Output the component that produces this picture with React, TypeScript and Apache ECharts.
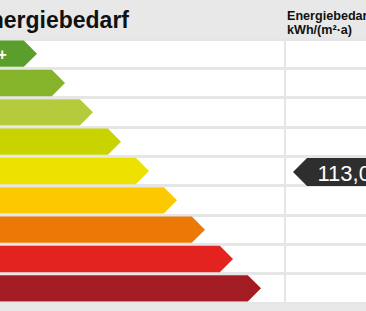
import React, { useEffect, useRef } from "react";
import * as echarts from "echarts";

const classes = ["A+", "A", "B", "C", "D", "E", "F", "G", "H"];
const arrowEnds = [37, 65, 93, 121, 149, 177, 205, 233, 261];
const classColors = ["#5a9e2b", "#85b42a", "#b5cb3c", "#c8d300", "#ede100", "#fcc800", "#ec7805", "#e2231f", "#a31b23"];
const classUpper = [30, 50, 75, 100, 130, 160, 200, 250];
const energyValue = 113.0;
const titleText = "Energiebedarf";
const unitLine1 = "Energiebedarf";
const unitLine2 = "kWh/(m²·a)";

function classIndexOf(v: number): number {
  for (let i = 0; i < classUpper.length; i++) if (v < classUpper[i]) return i;
  return classUpper.length;
}

export default function App() {
  const ref = useRef<HTMLDivElement>(null);
  useEffect(() => {
    if (!ref.current) return;
    const chart = echarts.init(ref.current, null, { renderer: "svg" });
    const markerIdx = classIndexOf(energyValue);
    const option: any = {
      animation: false,
      backgroundColor: "#e8e8e8",
      grid: { left: 0, right: 0, top: 39, bottom: 8, show: true, backgroundColor: "#ffffff", borderWidth: 0 },
      xAxis: { type: "value", min: 0, max: 366, show: false },
      yAxis: {
        type: "category",
        data: classes,
        inverse: true,
        axisLine: { show: false },
        axisTick: { show: false },
        axisLabel: { show: false },
        splitLine: { show: true, lineStyle: { color: "#e6e6e6", width: 3 } },
      },
      graphic: [
        {
          type: "text",
          x: 129,
          y: 20,
          style: { text: titleText, fill: "#111", font: "bold 23px 'Liberation Sans', Arial, sans-serif", textAlign: "right", textVerticalAlign: "middle" },
        },
        {
          type: "text",
          x: 287,
          y: 16,
          style: { text: unitLine1, fill: "#111", font: "bold 12.6px 'Liberation Sans', Arial, sans-serif", textAlign: "left", textVerticalAlign: "middle" },
        },
        {
          type: "text",
          x: 287,
          y: 29.5,
          style: { text: unitLine2, fill: "#111", font: "bold 12.6px 'Liberation Sans', Arial, sans-serif", textAlign: "left", textVerticalAlign: "middle" },
        },
      ],
      series: [
        {
          type: "custom",
          clip: false,
          data: arrowEnds.map((v, i) => [v, i]),
          encode: { x: 0, y: 1 },
          renderItem: (params: any, api: any) => {
            const end = api.value(0);
            const idx = api.value(1);
            const tip = api.coord([end, idx]);
            const zero = api.coord([0, idx]);
            const band = api.size([0, 1])[1];
            const half = (band - 3) / 2;
            const cy = tip[1];
            const sx = zero[0] - 30;
            return {
              type: "group",
              children: [
                {
                  type: "polygon",
                  shape: {
                    points: [
                      [sx, cy - half],
                      [tip[0] - half, cy - half],
                      [tip[0], cy],
                      [tip[0] - half, cy + half],
                      [sx, cy + half],
                    ],
                  },
                  style: { fill: classColors[idx] },
                },
                {
                  type: "text",
                  x: zero[0] - 14,
                  y: cy + 1,
                  style: { text: classes[idx], fill: "#fff", font: "bold 16px 'Liberation Sans', Arial, sans-serif", textAlign: "left", textVerticalAlign: "middle" },
                },
              ],
            };
          },
          markLine: {
            silent: true,
            symbol: "none",
            label: { show: false },
            lineStyle: { color: "#e6e6e6", width: 2, type: "solid" },
            data: [{ xAxis: 284.5 }],
          },
        },
        {
          type: "custom",
          clip: false,
          data: [[energyValue, markerIdx]],
          encode: { y: 1 },
          renderItem: (params: any, api: any) => {
            const v = api.value(0);
            const idx = api.value(1);
            const c = api.coord([0, idx]);
            const cy = c[1] + 1;
            const half = 14;
            const tipX = 293;
            return {
              type: "group",
              children: [
                {
                  type: "polygon",
                  shape: {
                    points: [
                      [tipX, cy],
                      [tipX + half, cy - half],
                      [380, cy - half],
                      [380, cy + half],
                      [tipX + half, cy + half],
                    ],
                  },
                  style: { fill: "#2e2e2e" },
                },
                {
                  type: "text",
                  x: 317.5,
                  y: cy + 1,
                  style: {
                    text: v.toFixed(1).replace(".", ","),
                    fill: "#fff",
                    font: "22px 'Liberation Sans', Arial, sans-serif",
                    textAlign: "left",
                    textVerticalAlign: "middle",
                  },
                },
              ],
            };
          },
        },
      ],
    };
    chart.setOption(option);
    return () => chart.dispose();
  }, []);
  return <div ref={ref} style={{ position: "fixed", left: 0, top: 0, width: 366, height: 311 }} />;
}
